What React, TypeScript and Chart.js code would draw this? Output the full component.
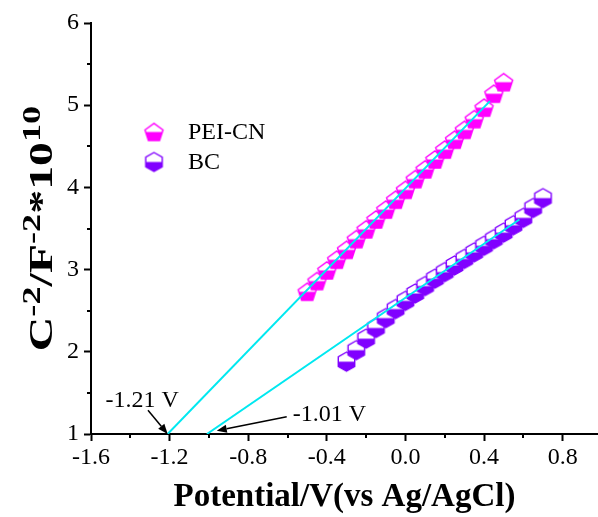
import React, { useEffect, useRef } from "react";
import { Chart, registerables } from "chart.js";

Chart.register(...registerables);

const FONT = '"Liberation Serif", "Times New Roman", serif';

// PEI-CN Mott–Schottky data
const potentialPEI = [-0.5, -0.45, -0.4, -0.35, -0.3, -0.25, -0.2, -0.15, -0.1, -0.05, 0.0, 0.05, 0.1, 0.15, 0.2, 0.25, 0.3, 0.35, 0.4, 0.45, 0.5];
const valuesPEI = [2.73, 2.86, 2.99, 3.12, 3.24, 3.37, 3.49, 3.61, 3.73, 3.85, 3.97, 4.10, 4.22, 4.34, 4.46, 4.58, 4.70, 4.83, 4.97, 5.14, 5.28];

// BC data
const potentialBC = [-0.3, -0.25, -0.2, -0.15, -0.1, -0.05, 0.0, 0.05, 0.1, 0.15, 0.2, 0.25, 0.3, 0.35, 0.4, 0.45, 0.5, 0.55, 0.6, 0.65, 0.7];
const valuesBC = [1.88, 2.02, 2.16, 2.29, 2.41, 2.52, 2.62, 2.71, 2.80, 2.89, 2.97, 3.05, 3.13, 3.21, 3.29, 3.37, 3.45, 3.54, 3.63, 3.75, 3.87];

// Linear fits (cyan)
const fitPEIx = [-1.21, 0.43];
const fitPEIy = [1.0, 5.05];
const fitBCx = [-1.01, 0.58];
const fitBCy = [1.0, 3.61];

// Annotations
const annotationTexts = ["-1.21 V", "-1.01 V"];
const annotationAlign: CanvasTextAlign[] = ["center", "left"];
const annotationX = [-1.34, -0.573];
const annotationY = [1.33, 1.16];
const arrowFromX = [-1.31, -0.604];
const arrowFromY = [1.29, 1.21];
const arrowToX = [-1.21, -0.96];
const arrowToY = [1.0, 1.04];

const seriesNames = ["PEI-CN", "BC"];
const seriesColors = ["#FF00FF", "#8000FF"];
const fitColor = "#00E8F0";

const xTitle = "Potential/V(vs Ag/AgCl)";
const yTitleParts = [
  { t: "C", sup: false },
  { t: "-2", sup: true },
  { t: "/F", sup: false },
  { t: "-2", sup: true },
  { t: "*10", sup: false },
  { t: "10", sup: true },
];

function makeMarker(sides: number, color: string, radius: number): HTMLCanvasElement {
  const size = Math.ceil(radius * 2 + 4);
  const c = document.createElement("canvas");
  c.width = size;
  c.height = size;
  const g = c.getContext("2d")!;
  const pts: number[][] = [];
  for (let i = 0; i < sides; i++) {
    const a = -Math.PI / 2 + (i * 2 * Math.PI) / sides;
    pts.push([Math.cos(a) * radius, Math.sin(a) * radius]);
  }
  const ys = pts.map((p) => p[1]);
  const minY = Math.min(...ys);
  const maxY = Math.max(...ys);
  const cx = size / 2;
  const cy = size / 2 - (minY + maxY) / 2;
  const path = () => {
    g.beginPath();
    pts.forEach((p, i) => {
      if (i === 0) g.moveTo(cx + p[0], cy + p[1]);
      else g.lineTo(cx + p[0], cy + p[1]);
    });
    g.closePath();
  };
  path();
  g.fillStyle = "#FFFFFF";
  g.fill();
  g.save();
  path();
  g.clip();
  g.fillStyle = color;
  g.fillRect(0, size / 2, size, size / 2);
  g.restore();
  path();
  g.lineWidth = 1.4;
  g.strokeStyle = color;
  g.stroke();
  return c;
}

const isMultiple = (v: number, step: number) => Math.abs(v / step - Math.round(v / step)) < 1e-6;

export default function App() {
  const ref = useRef<HTMLCanvasElement | null>(null);
  useEffect(() => {
    const canvas = ref.current;
    if (!canvas) return;
    const markers = [makeMarker(5, seriesColors[0], 9.5), makeMarker(6, seriesColors[1], 9.5)];

    const overlay = {
      id: "overlay",
      afterDatasetsDraw(chart: any) {
        const ctx = chart.ctx as CanvasRenderingContext2D;
        const xs = chart.scales.x;
        const ys = chart.scales.y;
        const area = chart.chartArea;
        ctx.save();
        // minor ticks
        ctx.strokeStyle = "#000";
        ctx.lineWidth = 2;
        xs.ticks.forEach((t: any) => {
          if (!isMultiple(t.value, 0.4)) {
            const px = Math.round(xs.getPixelForValue(t.value));
            ctx.beginPath();
            ctx.moveTo(px, area.bottom);
            ctx.lineTo(px, area.bottom + 4);
            ctx.stroke();
          }
        });
        ys.ticks.forEach((t: any) => {
          if (!isMultiple(t.value, 1)) {
            const py = Math.round(ys.getPixelForValue(t.value));
            ctx.beginPath();
            ctx.moveTo(area.left, py);
            ctx.lineTo(area.left - 4, py);
            ctx.stroke();
          }
        });
        // annotations
        ctx.fillStyle = "#000";
        ctx.strokeStyle = "#000";
        ctx.lineWidth = 1.5;
        for (let i = 0; i < annotationTexts.length; i++) {
          const x0 = xs.getPixelForValue(arrowFromX[i]);
          const y0 = ys.getPixelForValue(arrowFromY[i]);
          const x1 = xs.getPixelForValue(arrowToX[i]);
          const y1 = ys.getPixelForValue(arrowToY[i]);
          const ang = Math.atan2(y1 - y0, x1 - x0);
          const hl = 10, hw = 4;
          const bx = x1 - Math.cos(ang) * hl;
          const by = y1 - Math.sin(ang) * hl;
          ctx.beginPath();
          ctx.moveTo(x0, y0);
          ctx.lineTo(bx, by);
          ctx.stroke();
          ctx.beginPath();
          ctx.moveTo(x1, y1);
          ctx.lineTo(bx + Math.sin(ang) * hw, by - Math.cos(ang) * hw);
          ctx.lineTo(bx - Math.sin(ang) * hw, by + Math.cos(ang) * hw);
          ctx.closePath();
          ctx.fill();
          ctx.font = `24px ${FONT}`;
          ctx.textAlign = annotationAlign[i];
          ctx.textBaseline = "alphabetic";
          ctx.fillText(annotationTexts[i], xs.getPixelForValue(annotationX[i]), ys.getPixelForValue(annotationY[i]));
        }
        // legend
        const lx = area.left + 63;
        const ly = area.top + 109;
        for (let i = 0; i < seriesNames.length; i++) {
          const m = markers[i];
          const yy = ly + i * 30;
          ctx.drawImage(m, lx - m.width / 2, yy - m.height / 2);
          ctx.font = `24px ${FONT}`;
          ctx.textAlign = "left";
          ctx.textBaseline = "middle";
          ctx.fillStyle = "#000";
          ctx.fillText(seriesNames[i], lx + 34, yy + 1);
        }
        // y title
        ctx.save();
        const cxT = 52;
        const cyT = (area.top + area.bottom) / 2;
        ctx.translate(cxT, cyT);
        ctx.rotate(-Math.PI / 2);
        ctx.scale(1.45, 1);
        const baseFont = `bold 33px ${FONT}`;
        const supFont = `bold 25px ${FONT}`;
        let total = 0;
        yTitleParts.forEach((p) => {
          ctx.font = p.sup ? supFont : baseFont;
          total += ctx.measureText(p.t).width;
        });
        let x = -total / 2;
        ctx.textAlign = "left";
        ctx.textBaseline = "alphabetic";
        yTitleParts.forEach((p) => {
          ctx.font = p.sup ? supFont : baseFont;
          ctx.fillText(p.t, x, p.sup ? -12 : 0);
          x += ctx.measureText(p.t).width;
        });
        ctx.restore();
        ctx.restore();
      },
    };

    const chart = new Chart(canvas, {
      type: "scatter",
      data: {
        datasets: [
          {
            type: "line",
            data: fitPEIx.map((x, i) => ({ x, y: fitPEIy[i] })),
            borderColor: fitColor,
            borderWidth: 2,
            pointRadius: 0,
            fill: false,
            order: 0,
          } as any,
          {
            type: "line",
            data: fitBCx.map((x, i) => ({ x, y: fitBCy[i] })),
            borderColor: fitColor,
            borderWidth: 2,
            pointRadius: 0,
            fill: false,
            order: 0,
          } as any,
          {
            label: seriesNames[0],
            data: potentialPEI.map((x, i) => ({ x, y: valuesPEI[i] })),
            pointStyle: markers[0],
            pointRadius: 9,
            showLine: false,
            order: 1,
          } as any,
          {
            label: seriesNames[1],
            data: potentialBC.map((x, i) => ({ x, y: valuesBC[i] })),
            pointStyle: markers[1],
            pointRadius: 9,
            showLine: false,
            order: 1,
          } as any,
        ],
      },
      options: {
        responsive: false,
        animation: false,
        devicePixelRatio: 1,
        layout: { autoPadding: false, padding: { top: 23, right: 0, left: 0, bottom: 0 } },
        plugins: { legend: { display: false }, tooltip: { enabled: false } },
        scales: {
          x: {
            type: "linear",
            min: -1.6,
            max: 0.98,
            ticks: {
              stepSize: 0.2,
              includeBounds: false,
              autoSkip: false,
              maxRotation: 0,
              color: "#000",
              padding: 2,
              font: { family: FONT, size: 24 },
              callback: (v: any) => (isMultiple(Number(v), 0.4) ? Number(v).toFixed(1) : ""),
            },
            grid: {
              display: true,
              drawOnChartArea: false,
              drawTicks: true,
              tickLength: 7,
              tickWidth: 2,
              tickColor: (c: any) => (c.tick && isMultiple(c.tick.value, 0.4) ? "#000" : "rgba(0,0,0,0)"),
            },
            border: { display: true, color: "#000", width: 2 },
            title: {
              display: true,
              text: xTitle,
              color: "#000",
              font: { family: FONT, size: 33, weight: "bold" },
              padding: { top: 0, bottom: 0 },
            },
            afterFit: (s: any) => {
              s.height = 83;
              s.paddingLeft = 0;
              s.paddingRight = 0;
            },
          },
          y: {
            type: "linear",
            min: 1,
            max: 6,
            ticks: {
              stepSize: 0.5,
              includeBounds: false,
              autoSkip: false,
              color: "#000",
              padding: 5,
              font: { family: FONT, size: 24 },
              callback: (v: any) => (isMultiple(Number(v), 1) ? String(Number(v)) : ""),
            },
            grid: {
              display: true,
              drawOnChartArea: false,
              drawTicks: true,
              tickLength: 7,
              tickWidth: 2,
              tickColor: (c: any) => (c.tick && isMultiple(c.tick.value, 1) ? "#000" : "rgba(0,0,0,0)"),
            },
            border: { display: true, color: "#000", width: 2 },
            afterFit: (s: any) => {
              s.width = 91;
              s.paddingTop = 0;
              s.paddingBottom = 0;
            },
          },
        },
      } as any,
      plugins: [overlay],
    });
    return () => chart.destroy();
  }, []);

  return (
    <div style={{ position: "fixed", left: 0, top: 0, width: 598, height: 517, background: "#fff" }}>
      <canvas ref={ref} width={598} height={517} style={{ display: "block", width: 598, height: 517 }} />
    </div>
  );
}
